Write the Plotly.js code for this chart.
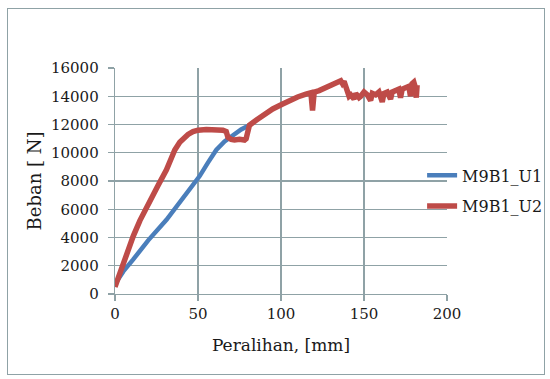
<!DOCTYPE html>
<html>
<head>
<meta charset="utf-8">
<script src="https://cdn.plot.ly/plotly-3.0.1.min.js"></script>
<style>
html,body{margin:0;padding:0;background:#fff;}
#wrap{position:relative;width:550px;height:379px;}
#chart{position:absolute;left:0;top:0;width:550px;height:379px;}
#frame{position:absolute;left:7px;top:8px;width:538px;height:367px;border:1.5px solid #8fa2a6;pointer-events:none;box-sizing:border-box;}
</style>
</head>
<body>
<div id="wrap"><div id="chart"></div><div id="frame"></div></div>
<script>
const seriesNames = ["M9B1_U1", "M9B1_U2"];
const xTicks = [0, 50, 100, 150, 200];
const yTicks = [0, 2000, 4000, 6000, 8000, 10000, 12000, 14000, 16000];

const u1X = [0, 5, 11, 20, 31, 40, 51, 56, 61, 66, 71, 76, 80];
const u1Y = [700, 1600, 2450, 3800, 5250, 6700, 8350, 9300, 10200, 10800, 11250, 11650, 11900];

const u2X = [0, 2, 5, 8, 11, 15, 21, 26, 31, 36, 39, 41, 44, 47, 50, 55, 60, 65, 67, 68, 70, 72, 75, 78, 79, 80, 81, 85, 90, 95, 101, 106, 110, 115, 118, 119, 120, 123, 125, 128, 131, 133, 135, 136, 137, 138, 139, 140, 141, 142, 144, 145, 147, 148, 150, 152, 154, 155, 157, 159, 161, 162, 164, 166, 167, 169, 171, 172, 173, 175, 177, 178, 179, 180, 181, 181.5, 182];
const u2Y = [500, 1200, 2300, 3300, 4100, 5200, 6650, 7700, 8800, 10200, 10750, 11000, 11300, 11500, 11600, 11650, 11650, 11600, 11500, 11100, 10950, 10900, 10950, 10900, 11000, 11500, 11950, 12300, 12700, 13100, 13450, 13750, 13950, 14150, 14250, 13000, 14300, 14400, 14500, 14600, 14750, 14850, 15000, 15100, 14900, 15050, 14700, 14300, 14000, 14100, 13800, 14200, 13900, 14000, 14300, 14100, 13700, 14200, 14100, 14300, 13600, 14200, 14300, 13800, 14300, 14400, 14500, 13900, 14500, 14600, 14700, 14000, 14900, 15000, 14600, 13900, 14800];

const gridCol = '#8fa2a6';
const fam = 'DejaVu Serif';
const txt = '#1a1a1a';

const traces = [
  {x: u1X, y: u1Y, name: seriesNames[0], type: 'scatter', mode: 'lines',
   line: {color: '#4a7ebb', width: 4.5}, legendgroup: 'a'},
  {x: u2X, y: u2Y, name: seriesNames[1], type: 'scatter', mode: 'lines',
   line: {color: '#be4b48', width: 5.5}, legendgroup: 'b'}
];

const layout = {
  width: 550, height: 379,
  margin: {l: 115, r: 103, t: 68, b: 85, autoexpand: false},
  paper_bgcolor: 'rgba(0,0,0,0)', plot_bgcolor: '#fff',
  font: {family: fam, size: 16, color: txt},
  showlegend: true,
  legend: {x: 0.925, xanchor: 'left', y: 0.6, yanchor: 'top',
           font: {family: fam, size: 16, color: txt}, tracegroupgap: 7,
           bgcolor: 'rgba(0,0,0,0)'},
  xaxis: {range: [0, 200], tickvals: xTicks, showgrid: true, gridcolor: gridCol, gridwidth: 1.3,
          showline: true, linecolor: gridCol, linewidth: 1.3, zeroline: false,
          ticks: 'outside', ticklen: 6, tickcolor: gridCol, tickwidth: 1.3,
          tickfont: {family: fam, size: 15, color: txt},
          title: {text: 'Peralihan, [mm]', font: {family: fam, size: 17, color: txt}, standoff: 16}},
  yaxis: {range: [0, 16000], tickvals: yTicks, tickformat: 'd', showgrid: true, gridcolor: gridCol, gridwidth: 1.3,
          showline: true, linecolor: gridCol, linewidth: 1.3, zeroline: false,
          ticks: 'outside', ticklen: 6, tickcolor: gridCol, tickwidth: 1.3, ticklabelstandoff: 6,
          tickfont: {family: fam, size: 15, color: txt},
          title: {text: 'Beban [ N]', font: {family: fam, size: 18, color: txt}, standoff: 4}}
};

Plotly.newPlot('chart', traces, layout, {displayModeBar: false, staticPlot: true});
</script>
</body>
</html>
